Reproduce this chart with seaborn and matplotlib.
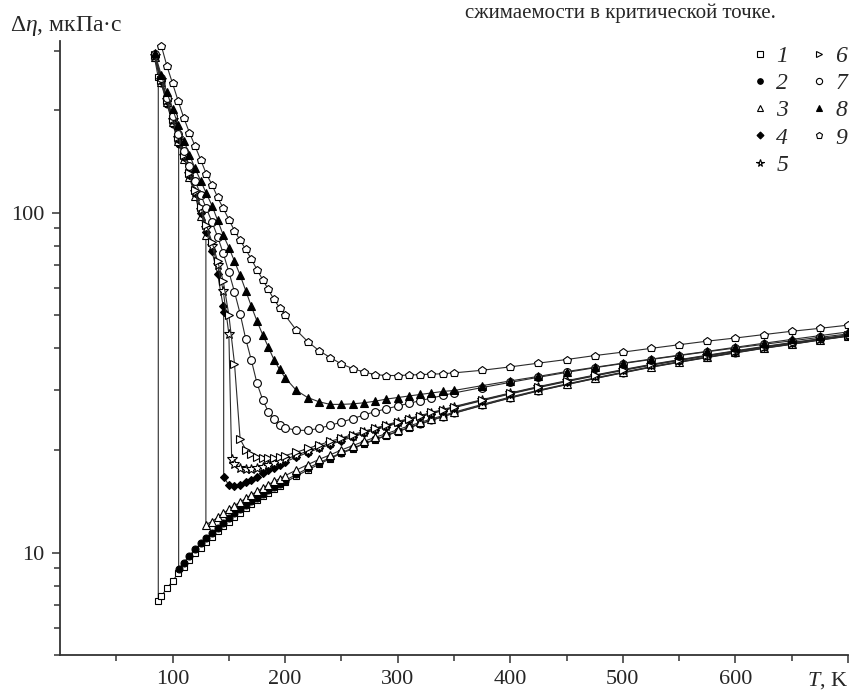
import pandas as pd
import seaborn as sns
import matplotlib
matplotlib.use("Agg")
from matplotlib import pyplot as plt
from matplotlib.lines import Line2D
from matplotlib.ticker import FixedLocator, NullFormatter

sns.set_style("ticks")
plt.rcParams["font.family"] = ["Liberation Serif", "DejaVu Serif"]
plt.rcParams["mathtext.fontset"] = "custom"
plt.rcParams["mathtext.rm"] = "Liberation Serif"
plt.rcParams["mathtext.it"] = "Liberation Serif:italic"

# common high-temperature grid, K
T_tail = [200, 210, 220, 230, 240, 250, 260, 270, 280, 290, 300, 310, 320, 330, 340, 350,
          375, 400, 425, 450, 475, 500, 525, 550, 575, 600, 625, 650, 675, 700]

# 1
T1 = [84, 87.3, 87.3, 90, 95, 100, 105, 110, 115, 120, 125, 130, 135, 140, 145, 150, 155,
      160, 165, 170, 175, 180, 185, 190, 195] + T_tail
eta1 = [285, 250, 7.2, 7.45, 7.85, 8.25, 8.7, 9.1, 9.5, 9.95, 10.35, 10.75, 11.15, 11.55,
        11.95, 12.35, 12.75, 13.1, 13.5, 13.9, 14.25, 14.65, 15.0, 15.4, 15.75,
        16.1, 16.8, 17.5, 18.2, 18.9, 19.6, 20.2, 20.9, 21.5, 22.1, 22.7, 23.3, 23.9, 24.5,
        25.1, 25.7, 27.1, 28.5, 29.9, 31.2, 32.5, 33.8, 35.1, 36.3, 37.5, 38.7, 39.9, 41.0,
        42.2, 43.3]

# 2
T2 = [84, 90, 95, 100, 105, 105.4, 105.4, 110, 115, 120, 125, 130, 135, 140, 145, 150, 155,
      160, 165, 170, 175, 180, 185, 190, 195] + T_tail
eta2 = [287, 240, 209, 183, 161, 159, 8.95, 9.35, 9.8, 10.25, 10.65, 11.05, 11.45, 11.85,
        12.25, 12.65, 13.05, 13.4, 13.8, 14.15, 14.5, 14.9, 15.25, 15.6, 15.95,
        16.3, 17.0, 17.7, 18.4, 19.0, 19.7, 20.3, 20.95, 21.55, 22.15, 22.75, 23.35, 23.95,
        24.55, 25.15, 25.75, 27.15, 28.55, 29.95, 31.25, 32.55, 33.85, 35.15, 36.35, 37.55,
        38.75, 39.95, 41.05, 42.25, 43.35]

# 3
T3 = [84, 90, 95, 100, 105, 110, 115, 120, 125, 129.6, 129.6, 135, 140, 145, 150, 155, 160,
      165, 170, 175, 180, 185, 190, 195] + T_tail
eta3 = [288, 242, 211, 185, 163, 144, 127, 112, 98, 86, 12.1, 12.35, 12.7, 13.05, 13.4,
        13.75, 14.1, 14.45, 14.8, 15.15, 15.5, 15.85, 16.2, 16.5,
        16.85, 17.5, 18.15, 18.8, 19.4, 20.05, 20.65, 21.25, 21.85, 22.4, 23.0, 23.6, 24.15,
        24.75, 25.3, 25.9, 27.3, 28.7, 30.05, 31.35, 32.65, 33.95, 35.25, 36.45, 37.65,
        38.85, 40.05, 41.15, 42.3, 43.45]

# 4
T4 = [84, 90, 95, 100, 105, 110, 115, 120, 125, 130, 135, 140, 145, 145.4, 145.4, 150, 155,
      160, 165, 170, 175, 180, 185, 190, 195] + T_tail
eta4 = [289, 244, 213, 187, 165, 146, 129, 114, 100, 88, 77, 66, 53, 51, 16.7, 15.8, 15.7,
        15.85, 16.1, 16.4, 16.75, 17.1, 17.45, 17.8, 18.15,
        18.5, 19.1, 19.7, 20.25, 20.8, 21.35, 21.9, 22.45, 23.0, 23.5, 24.05, 24.6, 25.1,
        25.65, 26.15, 26.7, 28.0, 29.3, 30.6, 31.85, 33.1, 34.35, 35.6, 36.75, 37.9, 39.05,
        40.2, 41.3, 42.4, 43.5]

# 5
T5 = [84, 90, 95, 100, 105, 110, 115, 120, 125, 130, 135, 140, 145, 150, 152.5, 155, 160,
      165, 170, 175, 180, 185, 190, 195] + T_tail
eta5 = [290, 245, 214, 188, 166, 147, 130, 115, 102, 90, 80, 70, 59, 44, 18.8, 18.2, 17.8,
        17.65, 17.6, 17.7, 17.85, 18.05, 18.3, 18.55,
        18.8, 19.35, 19.9, 20.45, 21.0, 21.55, 22.1, 22.6, 23.15, 23.65, 24.2, 24.7, 25.25,
        25.75, 26.25, 26.8, 28.1, 29.4, 30.7, 31.95, 33.2, 34.45, 35.7, 36.85, 38.0, 39.15,
        40.3, 41.4, 42.5, 43.6]

# 6..8 share one grid
T_sc = [84, 90, 95, 100, 105, 110, 115, 120, 125, 130, 135, 140, 145, 150, 155, 160, 165,
        170, 175, 180, 185, 190, 195] + T_tail
eta6 = [291, 246, 215, 189, 167, 148, 131, 117, 104, 92, 82, 72, 63, 50, 36, 21.6, 20.1,
        19.45, 19.15, 19.0, 19.0, 19.05, 19.15,
        19.3, 19.75, 20.25, 20.75, 21.25, 21.75, 22.25, 22.75, 23.25, 23.75, 24.3, 24.8, 25.3,
        25.85, 26.35, 26.9, 28.2, 29.5, 30.8, 32.05, 33.3, 34.55, 35.8, 36.95, 38.1, 39.25,
        40.4, 41.5, 42.6, 43.7]
eta7 = [293, 249, 218, 192, 170, 152, 137, 124, 113, 103, 94, 85, 76, 67, 58.5, 50.5, 42.5,
        36.8, 31.5, 28.2, 26.0, 24.7, 23.8,
        23.3, 22.9, 22.9, 23.2, 23.7, 24.2, 24.8, 25.4, 26.0, 26.5, 27.0, 27.5, 28.0, 28.5,
        29.0, 29.5, 30.6, 31.7, 32.8, 33.9, 35.0, 36.0, 37.0, 38.0, 39.0, 40.0, 41.0, 42.0,
        43.0, 44.0]
eta8 = [296, 254, 226, 202, 181, 163, 148, 135, 124, 114, 105, 95, 86, 79, 72, 65.5, 59,
        53, 48, 43.8, 40.3, 37, 34.6,
        32.7, 30.0, 28.6, 27.8, 27.3, 27.3, 27.4, 27.6, 27.9, 28.3, 28.6, 28.9, 29.2, 29.5,
        29.8, 30.0, 31.0, 32.0, 33.0, 34.1, 35.1, 36.1, 37.1, 38.1, 39.1, 40.2, 41.3, 42.4,
        43.5, 44.6]

# 9
T9 = [90, 95, 100, 105, 110, 115, 120, 125, 130, 135, 140, 145, 150, 155, 160, 165, 170,
      175, 180, 185, 190, 195] + T_tail
eta9 = [310, 270, 240, 213, 190, 172, 157, 143, 130, 121, 111, 103, 95.5, 88.5, 83, 78, 73,
        68, 63.6, 59.5, 55.6, 52.6,
        49.9, 45.1, 41.8, 39.3, 37.5, 35.9, 34.8, 34.0, 33.4, 33.2, 33.2, 33.3, 33.4, 33.5,
        33.6, 33.8, 34.4, 35.2, 36.1, 37.0, 38.0, 38.9, 39.9, 40.9, 41.9, 42.8, 43.8, 44.8,
        45.7, 46.7]

curves = [T1, T2, T3, T4, T5, T_sc, T_sc, T_sc, T9]
values = [eta1, eta2, eta3, eta4, eta5, eta6, eta7, eta8, eta9]
names = ["1", "2", "3", "4", "5", "6", "7", "8", "9"]

frames = []
for n, t, e in zip(names, curves, values):
    frames.append(pd.DataFrame({"T": t, "eta": e, "curve": n}))
df = pd.concat(frames, ignore_index=True)

# marker, face, size
mk = {"1": ("s", "white", 4.8), "2": ("o", "black", 5.0), "3": ("^", "white", 5.8),
      "4": ("D", "black", 4.4), "5": ("*", "white", 7.0), "6": (">", "white", 5.8),
      "7": ("o", "white", 5.6), "8": ("^", "black", 5.8), "9": ("p", "white", 6.2)}

fig = plt.figure(figsize=(8.52, 6.91), dpi=100)
ax = fig.add_axes([60 / 852, 1 - 655 / 691, (848 - 60) / 852, (655 - 41) / 691])

for n, g in df.groupby("curve", sort=False):
    m, fc, s = mk[n]
    sns.lineplot(data=g, x="T", y="eta", ax=ax, sort=False, estimator=None,
                 color="#2b2b2b", linewidth=0.8, marker=m, markerfacecolor=fc,
                 markeredgecolor="black", markersize=s, markeredgewidth=0.8,
                 legend=False)

ax.set_yscale("log")
ax.set_xlim(0, 700)
ax.set_ylim(5, 320)

ax.xaxis.set_major_locator(FixedLocator([100, 200, 300, 400, 500, 600, 700]))
ax.set_xticklabels(["100", "200", "300", "400", "500", "600", "$T$, K"])
ax.get_xticklabels()[-1].set_horizontalalignment("right")
ax.xaxis.set_minor_locator(FixedLocator([50, 150, 250, 350, 450, 550, 650]))
ax.yaxis.set_major_locator(FixedLocator([10, 100]))
ax.set_yticklabels(["10", "100"])
ax.yaxis.set_minor_locator(FixedLocator([5, 6, 7, 8, 9, 20, 30, 40, 50, 60, 70, 80, 90, 200, 300]))
ax.yaxis.set_minor_formatter(NullFormatter())
ax.set_xlabel("")
ax.set_ylabel("")

sns.despine(ax=ax)
for sp in ["left", "bottom"]:
    ax.spines[sp].set_linewidth(1.3)
    ax.spines[sp].set_color("#333333")
ax.tick_params(which="both", direction="out", color="#333333", width=1.1, labelsize=16)
ax.tick_params(which="major", length=6, pad=5)
ax.tick_params(which="minor", length=4)

handles = [Line2D([], [], linestyle="none", marker=mk[n][0], markerfacecolor=mk[n][1],
                  markeredgecolor="black", markersize=mk[n][2] * 0.8, markeredgewidth=0.8)
           for n in names]
ax.legend(handles, names, ncol=2, frameon=False, loc="upper right",
          bbox_to_anchor=(1.014, 0.958), bbox_transform=fig.transFigure,
          prop={"family": "Liberation Serif", "style": "italic", "size": 17},
          handlelength=0.8, handletextpad=0.3, columnspacing=0.9, labelspacing=0.24,
          borderpad=0.2)

fig.text(10 / 852, 1 - 26 / 691, "Δ$\\eta$, мкПа·с", ha="left", va="center", fontsize=17)
fig.text(465 / 852, 1 - 13 / 691, "сжимаемости в критической точке.", ha="left",
         va="center", fontsize=15)

fig.savefig("out.png", dpi=100)
